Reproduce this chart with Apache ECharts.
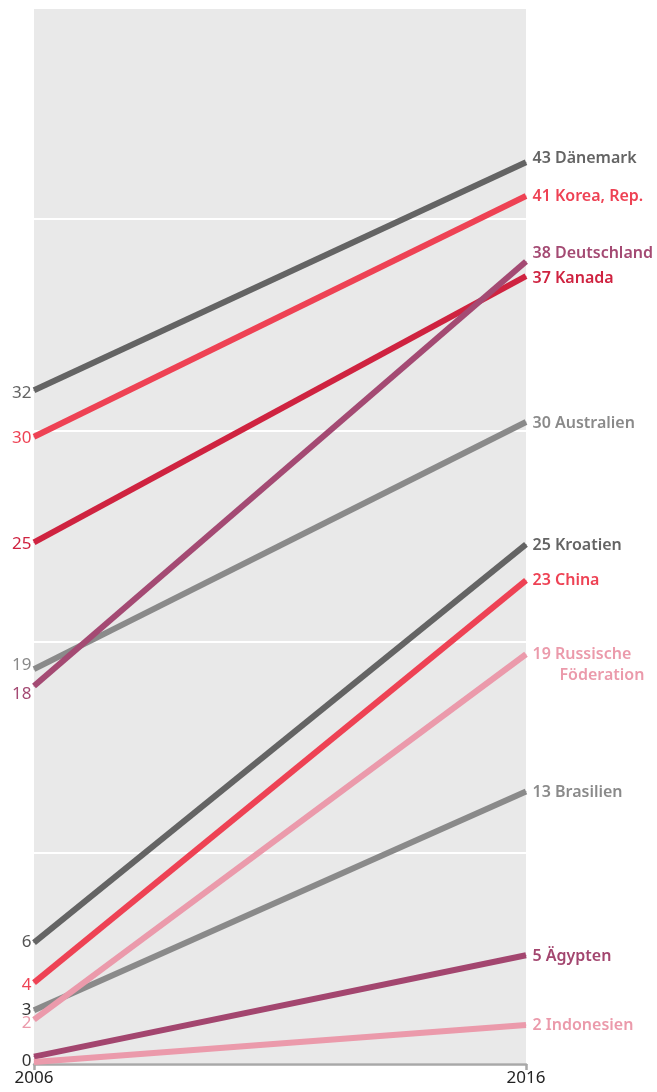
<!DOCTYPE html>
<html>
<head>
<meta charset="utf-8">
<script src="https://cdn.jsdelivr.net/npm/echarts@6/dist/echarts.min.js"></script>
<style>
html,body{margin:0;padding:0;background:#fff;}
#chart{width:657px;height:1092px;}
</style>
</head>
<body>
<div id="chart"></div>
<script>
var categories = ['2006', '2016'];
var countries = ['Dänemark', 'Korea, Rep.', 'Kanada', 'Australien', 'Deutschland', 'Kroatien', 'China', 'Brasilien', 'Russische Föderation', 'Ägypten', 'Indonesien'];
var values2006 = [31.9, 29.7, 24.7, 18.7, 17.9, 5.75, 3.85, 2.55, 2.1, 0.35, 0.1];
var values2016 = [42.7, 41.1, 37.3, 30.4, 38.0, 24.6, 22.9, 12.9, 19.4, 5.15, 1.85];
var labels2006 = ['32', '30', '25', '19', '18', '6', '4', '3', '2', '0', ''];
var labels2016 = ['43', '41', '37', '30', '38', '25', '23', '13', '19', '5', '2'];

var colors = ['#646464', '#ee4254', '#cf2340', '#8a8a8a', '#a44a73', '#646464', '#ee4254', '#8a8a8a', '#eb9aab', '#a3466f', '#eb9aab'];
var leftColors = ['#646464', '#ee4254', '#cf2340', '#8a8a8a', '#a44a73', '#555555', '#ee4254', '#333333', '#eb9aab', '#333333', '#eb9aab'];
var leftOffsets = [3, 1, 2, -4, 8, 0, 2, 0, 4, 5, 0];
var rightOffsets = [-4, 0, 2, 1, -8, 1, 0, 1, 11, 1, 1];

var FONT = '"Noto Sans"';

var series = countries.map(function (name, i) {
  var rightText;
  if (name === 'Russische Föderation') {
    rightText = labels2016[i] + ' Russische\n{ind|Föderation}';
  } else {
    rightText = labels2016[i] + ' ' + name;
  }
  return {
    name: name,
    type: 'line',
    symbol: 'circle',
    symbolSize: 1,
    showSymbol: true,
    showAllSymbol: true,
    z: 2 + i,
    itemStyle: { color: colors[i] },
    lineStyle: { color: colors[i], width: 6, cap: 'butt' },
    label: { show: true },
    labelLayout: function (params) {
      return { dy: params.dataIndex === 0 ? leftOffsets[i] : rightOffsets[i], hideOverlap: false };
    },
    data: [
      {
        value: values2006[i],
        label: {
          show: labels2006[i] !== '',
          position: 'left',
          distance: 2,
          formatter: labels2006[i],
          color: leftColors[i],
          fontFamily: FONT,
          fontSize: 17
        }
      },
      {
        value: values2016[i],
        label: {
          show: true,
          position: 'right',
          distance: 6,
          formatter: rightText,
          color: colors[i],
          fontFamily: FONT,
          fontWeight: 600,
          fontSize: 16,
          lineHeight: 21,
          rich: {
            ind: { padding: [0, 0, 0, 27], color: colors[i], fontFamily: FONT, fontWeight: 600, fontSize: 16, lineHeight: 21 }
          }
        }
      }
    ]
  };
});

var chart = echarts.init(document.getElementById('chart'), null, { renderer: 'canvas' });
chart.setOption({
  animation: false,
  grid: {
    left: 34, right: 131, top: 8, bottom: 28,
    show: true, backgroundColor: '#e9e9e9', borderWidth: 0
  },
  xAxis: {
    type: 'category',
    data: categories,
    boundaryGap: false,
    axisLine: { show: true, lineStyle: { color: '#a8a8a8', width: 2.5 } },
    axisTick: { show: true, length: 6, lineStyle: { color: '#a8a8a8', width: 2.5 } },
    axisLabel: { color: '#222', fontFamily: FONT, fontSize: 17, margin: 6 },
    splitLine: { show: false }
  },
  yAxis: {
    type: 'value',
    min: 0, max: 50, interval: 10,
    axisLine: { show: false },
    axisTick: { show: false },
    axisLabel: { show: false },
    splitLine: { show: true, lineStyle: { color: '#ffffff', width: 2 } }
  },
  series: series
});
</script>
</body>
</html>
